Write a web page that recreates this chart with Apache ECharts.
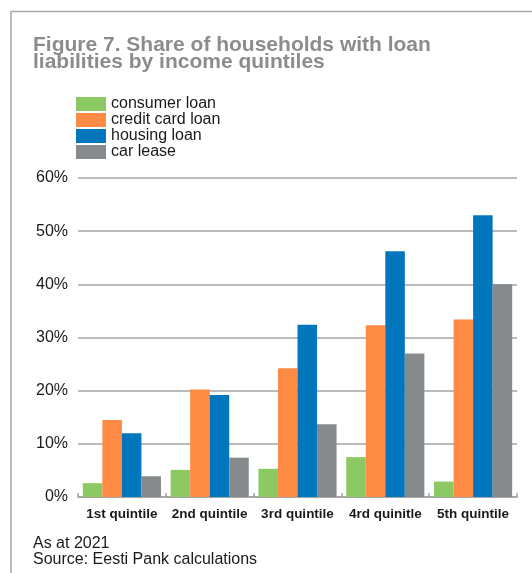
<!DOCTYPE html>
<html>
<head>
<meta charset="utf-8">
<script src="https://cdn.jsdelivr.net/npm/echarts@6/dist/echarts.min.js"></script>
<style>
  html, body { margin: 0; padding: 0; background: #fff; }
  #chart { width: 532px; height: 573px; }
</style>
</head>
<body>
<div id="chart"></div>
<script>
// Income quintiles along the x axis
var quintiles = ['1st quintile', '2nd quintile', '3rd quintile', '4rd quinitle', '5th quintile'];

// Share of households (%) holding each type of loan
var consumerLoan   = [2.6, 5.1, 5.3, 7.5, 2.9];
var creditCardLoan = [14.5, 20.2, 24.2, 32.3, 33.4];
var housingLoan    = [12.0, 19.2, 32.4, 46.2, 53.0];
var carLease       = [3.9, 7.4, 13.7, 27.0, 40.0];

var seriesNames = ['consumer loan', 'credit card loan', 'housing loan', 'car lease'];
var seriesData  = [consumerLoan, creditCardLoan, housingLoan, carLease];
var seriesColors = ['#8cc962', '#fe8a43', '#0077bd', '#868a8c'];

var FONT = '"Liberation Sans", Arial, Helvetica, sans-serif';

var chart = echarts.init(document.getElementById('chart'), null, { renderer: 'canvas' });

chart.setOption({
  animation: false,
  backgroundColor: '#ffffff',
  textStyle: { fontFamily: FONT },
  title: [
    {
      text: 'Figure 7. Share of households with loan\nliabilities by income quintiles',
      left: 33,
      top: 37,
      padding: 0,
      textStyle: {
        fontFamily: FONT,
        fontSize: 21,
        fontWeight: 'bold',
        color: '#8c8c8c',
        lineHeight: 17
      }
    },
    {
      text: 'As at 2021\nSource: Eesti Pank calculations',
      left: 33,
      top: 536,
      padding: 0,
      textStyle: {
        fontFamily: FONT,
        fontSize: 16,
        fontWeight: 'normal',
        color: '#1a1a1a',
        lineHeight: 16
      }
    }
  ],
  legend: {
    orient: 'vertical',
    left: 76,
    top: 96,
    padding: 0,
    itemWidth: 30,
    itemHeight: 14,
    itemGap: 0,
    icon: 'rect',
    data: seriesNames,
    textStyle: {
      fontFamily: FONT,
      fontSize: 16,
      color: '#1a1a1a',
      lineHeight: 16,
      height: 16
    }
  },
  graphic: [
    // frame along the top and left edges
    {
      type: 'polyline',
      silent: true,
      shape: { points: [[11, 573], [11, 11.5], [532, 11.5]] },
      style: { stroke: '#a8a8a8', lineWidth: 1.5, fill: null }
    }
  ],
  grid: {
    left: 78,
    right: 15,
    top: 178,
    bottom: 76,
    containLabel: false
  },
  xAxis: {
    type: 'category',
    data: quintiles,
    axisLine: { show: true, lineStyle: { color: '#a0a0a0', width: 1.5 } },
    axisTick: { show: true, inside: true, length: 4, alignWithLabel: false, lineStyle: { color: '#a0a0a0', width: 1.5 } },
    axisLabel: {
      margin: 10,
      fontFamily: FONT,
      fontSize: 13.5,
      fontWeight: 'bold',
      color: '#1a1a1a',
      interval: 0
    }
  },
  yAxis: {
    type: 'value',
    min: 0,
    max: 60,
    interval: 10,
    axisLine: { show: false },
    axisTick: { show: false },
    splitLine: { show: true, lineStyle: { color: '#a5a5a5', width: 1.5 } },
    axisLabel: {
      margin: 10,
      fontFamily: FONT,
      fontSize: 16,
      color: '#1a1a1a',
      formatter: '{value}%'
    }
  },
  series: seriesNames.map(function (name, i) {
    return {
      name: name,
      type: 'bar',
      data: seriesData[i],
      barGap: '0%',
      barCategoryGap: '11%',
      itemStyle: { color: seriesColors[i] }
    };
  })
});
</script>
</body>
</html>
